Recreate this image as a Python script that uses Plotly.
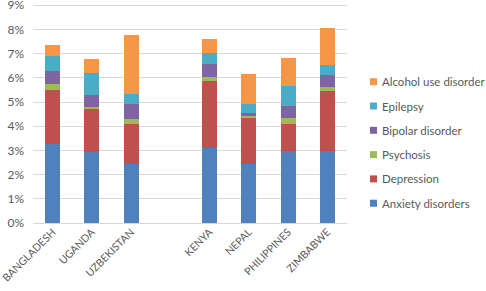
import plotly.graph_objects as go

countries = ["BANGLADESH", "UGANDA", "UZBEKISTAN", " ", "KENYA", "NEPAL", "PHILIPPINES", "ZIMBABWE"]

anxiety    = [3.27, 2.94, 2.42, None, 3.12, 2.42, 2.97, 2.98]
depression = [2.23, 1.76, 1.69, None, 2.74, 1.91, 1.14, 2.48]
psychosis  = [0.23, 0.11, 0.19, None, 0.17, 0.08, 0.21, 0.18]
bipolar    = [0.57, 0.50, 0.63, None, 0.53, 0.14, 0.52, 0.49]
epilepsy   = [0.61, 0.89, 0.39, None, 0.45, 0.37, 0.81, 0.41]
alcohol    = [0.46, 0.58, 2.45, None, 0.59, 1.25, 1.17, 1.51]

series_names = ["Anxiety disorders", "Depression", "Psychosis", "Bipolar disorder", "Epilepsy", "Alcohol use disorder"]
series_values = [anxiety, depression, psychosis, bipolar, epilepsy, alcohol]
colors = ["#4F81BD", "#C0504D", "#9BBB59", "#8064A2", "#4BACC6", "#F79646"]

y_ticks = [0, 1, 2, 3, 4, 5, 6, 7, 8, 9]
y_tick_labels = [f"{v}%" for v in y_ticks]

W, H = 486, 291
ML, MR, MT, MB = 33, 0, 4, 68
plot_right_px = 347
paper_w = W - ML - MR
paper_h = H - MT - MB
x_domain_end = (plot_right_px - ML) / paper_w

fig = go.Figure()
for name, vals, col in zip(series_names, series_values, colors):
    fig.add_trace(go.Bar(
        x=countries, y=vals, name=name, marker_color=col,
        marker_line_width=0, showlegend=False, hoverinfo="skip",
    ))

# Hand-built legend (keys + text), listed top-down in reverse stacking order
key_x_px, text_x_px = 370, 380
first_y_px, step_px = 81.7, 24.3
shapes, annotations = [], []
for k, (name, col) in enumerate(zip(reversed(series_names), reversed(colors))):
    yc = first_y_px + k * step_px
    x0 = (key_x_px - ML) / paper_w
    x1 = (key_x_px + 7 - ML) / paper_w
    y0 = (H - MB - (yc + 3.5)) / paper_h
    y1 = (H - MB - (yc - 3.5)) / paper_h
    shapes.append(dict(type="rect", xref="paper", yref="paper",
                       x0=x0, x1=x1, y0=y0, y1=y1,
                       fillcolor=col, line_width=0))
    annotations.append(dict(xref="paper", yref="paper",
                            x=(text_x_px - ML) / paper_w,
                            y=(H - MB - yc) / paper_h,
                            xanchor="left", yanchor="middle", showarrow=False,
                            text=name, font=dict(size=11.5, color="#595959")))

fig.update_layout(
    barmode="stack",
    bargap=0.62,
    width=W, height=H,
    margin=dict(l=ML, r=MR, t=MT, b=MB, autoexpand=False),
    plot_bgcolor="white", paper_bgcolor="white",
    font=dict(family="Lato, Open Sans, sans-serif", size=12, color="#595959"),
    hovermode=False,
    showlegend=False,
    shapes=shapes,
    annotations=annotations,
)
fig.update_xaxes(
    type="category", categoryorder="array", categoryarray=countries,
    domain=[0, x_domain_end],
    tickangle=-45, tickfont=dict(size=10.5, color="#595959"),
    showgrid=False, showline=False, ticks="",
    automargin=False, zeroline=False,
)
fig.update_yaxes(
    range=[0, 9.05], tickvals=y_ticks, ticktext=y_tick_labels,
    showgrid=True, gridcolor="#D9D9D9", gridwidth=1,
    zeroline=True, zerolinecolor="#D9D9D9", zerolinewidth=1,
    showline=False, ticks="", ticklabelstandoff=8,
    tickfont=dict(size=12, color="#595959"), automargin=False,
    ticklabeloverflow="allow",
)

fig.write_html("out.html", config={"displayModeBar": False, "staticPlot": True},
               post_script="document.body.style.margin='0';")
